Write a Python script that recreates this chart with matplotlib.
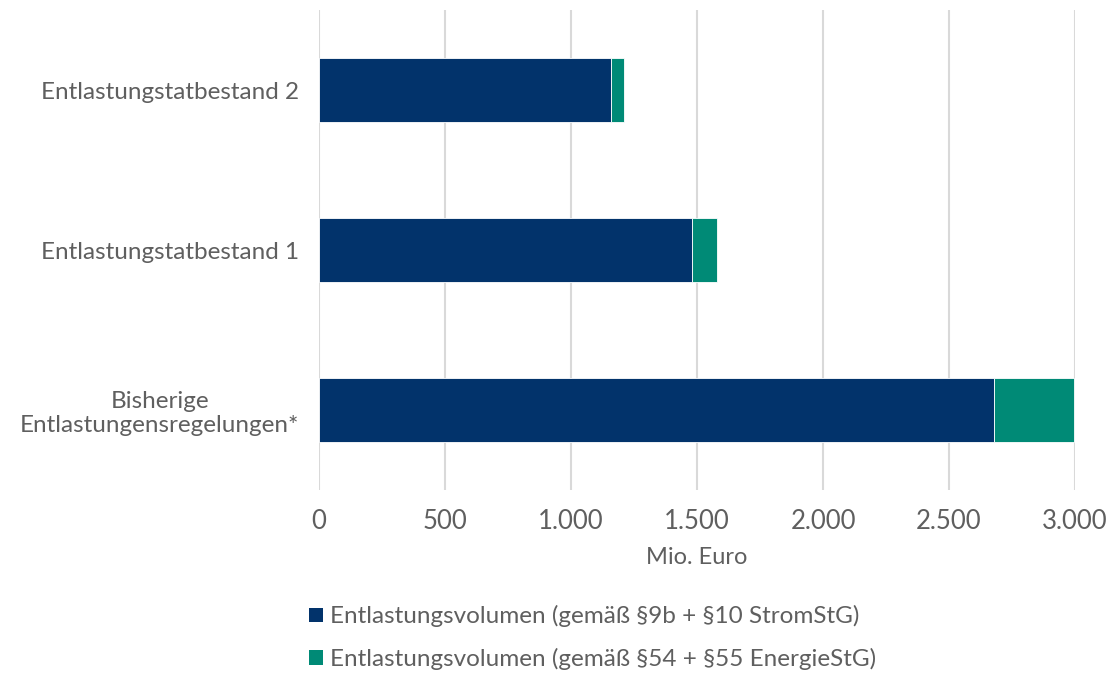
import matplotlib.pyplot as plt
from matplotlib.patches import Patch
from matplotlib.ticker import FuncFormatter

plt.rcParams['font.family'] = ['Lato', 'DejaVu Sans']

categories = ["Bisherige\nEntlastungensregelungen*", "Entlastungstatbestand 1", "Entlastungstatbestand 2"]
strom = [2679, 1480, 1159]
energie = [318, 99, 51]
series_labels = ["Entlastungsvolumen (gemäß §9b + §10 StromStG)",
                 "Entlastungsvolumen (gemäß §54 + §55 EnergieStG)"]
colors = ["#02336b", "#008a76"]
text_color = "#5f5f5f"

fig = plt.figure(figsize=(11.14, 6.73), dpi=100)
ax = fig.add_axes([0.2864, 0.272, 0.6786, 0.713])

y = range(len(categories))
ax.barh(y, strom, height=0.4, color=colors[0], edgecolor="white", linewidth=0.6, zorder=3)
ax.barh(y, energie, left=strom, height=0.4, color=colors[1], edgecolor="white", linewidth=0.6, zorder=3)

ax.set_xlim(0, 3000)
ax.set_ylim(-0.5, 2.5)
ax.set_xticks(range(0, 3001, 500))
ax.xaxis.set_major_formatter(FuncFormatter(lambda v, p: f"{int(v):,}".replace(",", ".")))
ax.set_yticks(list(y))
ax.set_yticklabels(categories)
ax.tick_params(axis="y", length=0, pad=14, labelsize=17.5, labelcolor=text_color)
ax.tick_params(axis="x", length=0, pad=14, labelsize=18.5, labelcolor=text_color)
for lbl in ax.get_yticklabels():
    lbl.set_multialignment("center")

ax.grid(axis="x", color="#d9d9d9", linewidth=1.5, zorder=0)
for s in ax.spines.values():
    s.set_visible(False)

ax.set_xlabel("Mio. Euro", fontsize=17, color=text_color, labelpad=9)

handles = [Patch(facecolor=c, edgecolor="none") for c in colors]
fig.legend(handles, series_labels, loc="upper left", bbox_to_anchor=(0.269, 0.115),
           frameon=False, fontsize=17.5, labelcolor=text_color, handlelength=0.54,
           handleheight=0.54, handletextpad=0.3, labelspacing=0.85, borderaxespad=0)

fig.savefig("out.png", dpi=100)
